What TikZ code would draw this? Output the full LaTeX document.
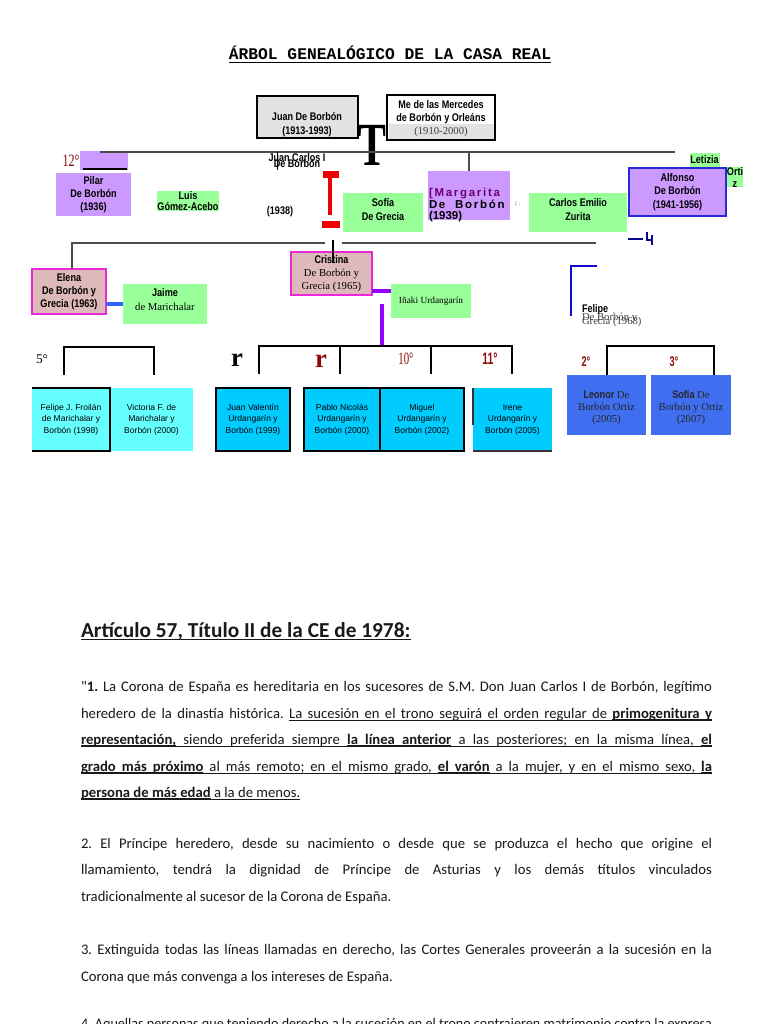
\documentclass[tikz,border=0pt]{standalone}
\usepackage{fontspec}
\usepackage{graphicx}
\setmainfont{Liberation Serif}
\newfontfamily\narf[FakeStretch=0.82]{Liberation Sans}
\newfontfamily\arif{Liberation Sans}
\newfontfamily\monof{Liberation Mono}
\newfontfamily\calf{Carlito}
\newfontfamily\spacef[LetterSpace=15]{Liberation Sans}
\definecolor{boxgray}{RGB}{226,226,226}
\definecolor{lav}{RGB}{204,153,255}
\definecolor{grn}{RGB}{153,255,153}
\definecolor{rose}{RGB}{221,185,185}
\definecolor{mag}{RGB}{235,40,215}
\definecolor{cyl}{RGB}{102,255,255}
\definecolor{cyd}{RGB}{0,204,255}
\definecolor{roy}{RGB}{64,110,240}
\definecolor{dred}{RGB}{140,10,10}
\definecolor{bred}{RGB}{240,0,0}
\definecolor{purp}{RGB}{150,0,255}
\definecolor{jblue}{RGB}{51,102,255}
\definecolor{navy}{RGB}{10,10,200}
\definecolor{alfb}{RGB}{40,40,220}
\definecolor{margc}{RGB}{110,0,110}
\definecolor{bodyc}{RGB}{25,25,25}
\newcommand\nmf{\narf\bfseries\fontsize{8.3}{10}\selectfont}
\newcommand\srf{\rmfamily\mdseries\fontsize{8}{10}\selectfont}
\newcommand\chf{\arif\fontsize{6.4}{8.6}\selectfont}
\newcommand\bodyf{\calf\fontsize{11}{13}\selectfont\frenchspacing\color{bodyc}}
\newlength\bw \setlength\bw{473.25pt}
\newsavebox\jbox
\newcommand\fitline[1]{\sbox\jbox{#1}\ifdim\wd\jbox>\bw\resizebox{\bw}{\height}{\usebox\jbox}\else\makebox[\bw][s]{#1}\fi}
\makeatletter
\def\ulthick{0.4pt}
\def\uldp{1.9pt}
\def\ulstop{}
\def\ul@stopm{\ulstop{}}
\newcommand\ulw[1]{\setbox0\hbox{#1}\rlap{\rule[-\uldp]{\wd0}{\ulthick}}\box0}
\newcommand\uls{\leaders\hrule height\dimexpr\ulthick-\uldp\relax depth \uldp\hskip\fontdimen2\font plus\fontdimen3\font minus\fontdimen4\font\relax}
\newcommand\ulwords[1]{\ul@first#1 \ulstop{} }
\def\ul@first#1 {\ulw{#1}\ul@next}
\def\ul@next#1 {\def\ul@tmp{#1}\ifx\ul@tmp\ul@stopm\else\uls\ulw{#1}\expandafter\ul@next\fi}
\makeatother
\newcommand\ubf[1]{{\bfseries\def\ulthick{1.1pt}\ulwords{#1}}}
\newcommand\jline[3]{\node[anchor=base west] (#1) at (81,#2) {\bodyf\fitline{#3}};}
\newcommand\lline[3]{\node[anchor=base west] (#1) at (81,#2) {\bodyf #3};}
\tikzset{
  every node/.style={inner sep=0pt, outer sep=0pt, align=center},
  sz/.style 2 args={minimum width=#1*0.75pt, minimum height=#2*0.75pt},
  graybox/.style={fill=boxgray, draw=black, line width=1.5pt},
  lavbox/.style={fill=lav, font=\nmf},
  grnbox/.style={fill=grn, font=\nmf},
  rosebox/.style={fill=rose, draw=mag, line width=1.2pt, font=\nmf},
  cylbox/.style={fill=cyl, font=\chf},
  cydbox/.style={fill=cyd, font=\chf},
  roybox/.style={fill=roy},
  roytext/.style={text=black!85, font=\srf\fontsize{8}{9}\selectfont},
  tline/.style={draw=black!70, line width=1pt},
  bline/.style={draw=black, line width=1.1pt},
  ord/.style={text=dred}
}
\begin{document}
\begin{tikzpicture}[x=0.75pt,y=-0.75pt]
\useasboundingbox (0,0) rectangle (768,1024);
\fill[white] (0,0) rectangle (768,1024);

% title
\node[font=\monof\bfseries\fontsize{12.2}{14}\selectfont] (title) at (390,53) {ÁRBOL GENEALÓGICO DE LA CASA REAL};
\draw[line width=0.9pt] ([yshift=-2.2pt]title.base west) -- ([yshift=-2.2pt]title.base east);

% first generation
\node[graybox, sz={101}{42}] (juan) at (307.5,117) {};
\node[font=\nmf] (juantxt) at (307,124.5) {Juan De Borbón\\(1913-1993)};
\node[draw=black, line width=1.1pt, fill=white, sz={108}{45}] (merc) at (441,117.5) {};
\fill[boxgray] (388.5,124) rectangle (494,139);
\node[font=\nmf] (merctxt) at (441,118.5) {Me de las Mercedes\\de Borbón y Orleáns\\{\srf\color{black!75}(1910-2000)}};
\node (tee) at (372,145) {\scalebox{0.68}[1]{\rmfamily\bfseries\fontsize{46}{46}\selectfont T}};

% main horizontal line
\coordinate (h1L) at (100,152);
\coordinate (h1R) at (675,152);
\coordinate (h1m) at (469,152);

% 12 / Pilar
\node[fill=lav, sz={48}{19}] (pilartop) at (104,160.5) {};
\coordinate (ulA) at (83,169);
\coordinate (ulB) at (127,169);
\draw[line width=0.8pt] (ulA) -- (ulB);
\draw[tline] (h1L) -- (h1R);
\node[ord] (n12) at (71,161) {\scalebox{0.7}[1]{\rmfamily\fontsize{13}{13}\selectfont 12°}};
\node[lavbox, sz={75}{43}] (pilar) at (93.5,194.5) {Pilar\\De Borbón\\(1936)};
\node[grnbox, sz={60}{20}, font=\narf\bfseries\fontsize{8.3}{7.6}\selectfont] (luis) at (188,201) {Luis\\Gómez-Acebo};

% Juan Carlos
\coordinate (jcA) at (277,152);
\coordinate (jcB) at (277,170);
\draw[line width=0.7pt] (jcA) -- (jcB);
\node[font=\nmf] (jc) at (297,158) {Juan Carlos I};
\node[font=\nmf] (jcdb) at (297,163) {De Borbón};
\node[font=\nmf] (jcy) at (280,212) {(1938)};
\fill[bred] (323,171) rectangle (339,178);
\fill[bred] (328,178) rectangle (332,215);
\fill[bred] (322,221) rectangle (340,228);

\node[grnbox, sz={80}{39}] (sofia) at (383,212.5) {};
\node[font=\nmf] (sofiatxt) at (383,209.5) {Sofía\\De Grecia};

% Margarita
\node[fill=lav, sz={82}{49}] (marg) at (469,195.5) {};
\draw[tline] (h1m) -- (marg.north);
\node[anchor=north west, align=left, font=\spacef\bfseries\fontsize{8.6}{8}\selectfont] (margtxt) at (429,188) {{\color{margc}[Margarita}\\De~ Borbón\\{\arif\bfseries(1939)}};
\node[text=black!45, font=\arif\fontsize{5}{5}\selectfont] (dashmark) at (518,204) {I -};

\node[grnbox, sz={98}{39}] (carlos) at (578,212.5) {};
\node[font=\nmf] (carlostxt) at (578,209.5) {Carlos Emilio\\Zurita};
\node[lavbox, draw=alfb, line width=1.3pt, sz={97}{48}] (alf) at (677.5,192) {Alfonso\\De Borbón\\(1941-1956)};
\node[grnbox, sz={30}{14}] (let) at (704.5,160) {Letizia};
\node[grnbox, sz={16}{20}, font=\narf\bfseries\fontsize{8.3}{9}\selectfont] (orti) at (735,177) {Orti\\z};

% small navy mark
\coordinate (nvA) at (628,239);
\coordinate (nvB) at (643,239);
\draw[navy!70!black, line width=0.8pt] (nvA) -- (nvB);
\draw[navy!70!black, line width=1.3pt] (647,232) -- (647,240) -- (652,240);
\draw[navy!70!black, line width=1.3pt] (652,235) -- (652,245);

% second generation
\node[rosebox, sz={74}{45}] (elena) at (69,291.5) {Elena\\De Borbón y\\Grecia (1963)};
\node[grnbox, sz={84}{40}] (jaime) at (165,304) {};
\node[font=\nmf] (jaimetxt) at (165,299.5) {Jaime\\{\srf de Marichalar}};
\draw[jblue, line width=3pt] (jaime.west -| elena.east) -- (jaime.west);
\coordinate (h2L) at (72,243);
\coordinate (h2a) at (325,243);
\coordinate (h2b) at (342,243);
\coordinate (h2R) at (596,243);
\draw[tline] (h2L |- elena.north) -- (h2L) -- (h2a);
\draw[tline] (h2b) -- (h2R);

\node[rosebox, sz={81}{43}] (cris) at (331.5,273.5) {Cristina\\{\srf De Borbón y}\\{\srf Grecia (1965)}};
\coordinate (crA) at (333,240);
\coordinate (crB) at (333,263);
\draw[line width=0.9pt] (crA) -- (crB);
\node[grnbox, sz={80}{34}, font=\rmfamily\fontsize{7}{8}\selectfont] (inaki) at (431,301) {Iñaki Urdangarín};
\coordinate (pc) at (372,291);
\draw[purp, line width=3pt] (pc) -- (inaki.west |- pc);
\coordinate (pvA) at (382,304);
\coordinate (pvB) at (382,346);
\draw[purp, line width=3pt] (pvA) -- (pvB);

% Felipe
\coordinate (fcA) at (597,266);
\coordinate (fcB) at (571,266);
\coordinate (fcC) at (571,316);
\draw[navy, line width=1.3pt] (fcA) -- (fcB) -- (fcC);
\node[anchor=west, font=\nmf] (felipe) at (582,310) {Felipe};
\node[anchor=west, text=black!75, font=\srf] (felipe2) at (582,317.5) {De Borbón y};
\node[anchor=west, text=black!75, font=\srf] (felipe3) at (582,322) {Grecia (1968)};

% brackets
\draw[bline] (64,375) -- (64,347) -- (154,347) -- (154,375);
\draw[bline] (259,374) -- (259,346) -- (512,346) -- (512,374);
\draw[bline] (340,346) -- (340,374);
\draw[bline] (431,346) -- (431,374);
\draw[bline] (607,375) -- (607,346) -- (714,346) -- (714,375);

% ordinals
\node (o5) at (42,359) {\rmfamily\fontsize{10}{10}\selectfont 5°};
\node (r1) at (237,360.5) {\rmfamily\bfseries\fontsize{20}{20}\selectfont r};
\node[ord] (r2) at (321,361) {\rmfamily\bfseries\fontsize{20}{20}\selectfont r};
\node[ord] (o10) at (406,359) {\scalebox{0.62}[1]{\rmfamily\fontsize{13}{13}\selectfont 10°}};
\node[ord] (o11) at (490,359) {\scalebox{0.62}[1]{\arif\bfseries\fontsize{12.5}{12.5}\selectfont 11°}};
\node[ord] (o2) at (586,362) {\scalebox{0.65}[1]{\arif\bfseries\fontsize{10.5}{10.5}\selectfont 2°}};
\node[ord] (o3) at (674,362) {\scalebox{0.65}[1]{\arif\bfseries\fontsize{10.5}{10.5}\selectfont 3°}};

% grandchildren
\node[cylbox, sz={83}{63}] (vic) at (151.5,419.5) {Victoria F. de\\Marichalar y\\Borbón (2000)};
\node[cylbox, sz={78}{63}] (fj) at (71,419.5) {Felipe J. Froilán\\de Marichalar y\\Borbón (1998)};
\draw[line width=1.5pt] (fj.north west) -- (fj.north east) -- (fj.south east) -- (fj.south west);
\node[cydbox, draw=black, line width=1.5pt, sz={74}{63}] (jv) at (253,419.5) {Juan Valentín\\Urdangarín y\\Borbón (1999)};
\node[cydbox, sz={76}{63}] (pablo) at (342,419.5) {Pablo Nicolás\\Urdangarín y\\Borbón (2000)};
\node[cydbox, sz={84}{63}] (miguel) at (422,419.5) {Miguel\\Urdangarín y\\Borbón (2002)};
\draw[line width=1.5pt] (pablo.north west) rectangle (miguel.south east);
\draw[line width=1.5pt] (pablo.north east) -- (pablo.south east);
\node[cydbox, sz={79}{63}] (irene) at (512.5,419.5) {Irene\\Urdangarín y\\Borbón (2005)};
\draw[black!80, line width=1.2pt] ([yshift=-4pt]irene.west) -- (irene.north west);
\draw[black!80, line width=1.2pt] (irene.south west) -- (irene.south east);
\node[roybox, sz={79}{60}] (leo) at (606.5,405) {};
\node[roytext] (leotxt) at (606.5,408) {{\nmf Leonor} De\\Borbón Ortiz\\(2005)};
\node[roybox, sz={80}{60}] (sof2) at (691,405) {};
\node[roytext] (sof2txt) at (691,408) {{\nmf Sofía} De\\Borbón y Ortiz\\(2007)};

% article text
\node[anchor=base west, font=\calf\bfseries\fontsize{16}{18}\selectfont, text=bodyc] (head) at (81,637) {{\def\ulthick{1.3pt}\def\uldp{2.6pt}\ulwords{Artículo 57, Título II de la CE de 1978:}}};
\jline{b1}{691}{"\textbf{1.} La Corona de España es hereditaria en los sucesores de S.M. Don Juan Carlos I de Borbón, legítimo}
\jline{b2}{718}{heredero de la dinastía histórica. \ulwords{La sucesión en el trono seguirá el orden regular de}\uls\ubf{primogenitura y}}
\jline{b3}{744}{\ubf{representación,}\uls\ulwords{siendo preferida siempre}\uls\ubf{la línea anterior}\uls\ulwords{a las posteriores; en la misma línea,}\uls\ubf{el}}
\jline{b4}{771}{\ubf{grado más próximo}\uls\ulwords{al más remoto; en el mismo grado,}\uls\ubf{el varón}\uls\ulwords{a la mujer, y en el mismo sexo,}\uls\ubf{la}}
\lline{b5}{797}{\ubf{persona de más edad}\uls\ulwords{a la de menos.}}
\jline{b6}{848}{2. El Príncipe heredero, desde su nacimiento o desde que se produzca el hecho que origine el}
\jline{b7}{874}{llamamiento, tendrá la dignidad de Príncipe de Asturias y los demás títulos vinculados}
\lline{b8}{901}{tradicionalmente al sucesor de la Corona de España.}
\jline{b9}{954}{3. Extinguida todas las líneas llamadas en derecho, las Cortes Generales proveerán a la sucesión en la}
\lline{b10}{981}{Corona que más convenga a los intereses de España.}
\jline{b11}{1028}{4. Aquellas personas que teniendo derecho a la sucesión en el trono contrajeren matrimonio contra la expresa}
\end{tikzpicture}
\end{document}
